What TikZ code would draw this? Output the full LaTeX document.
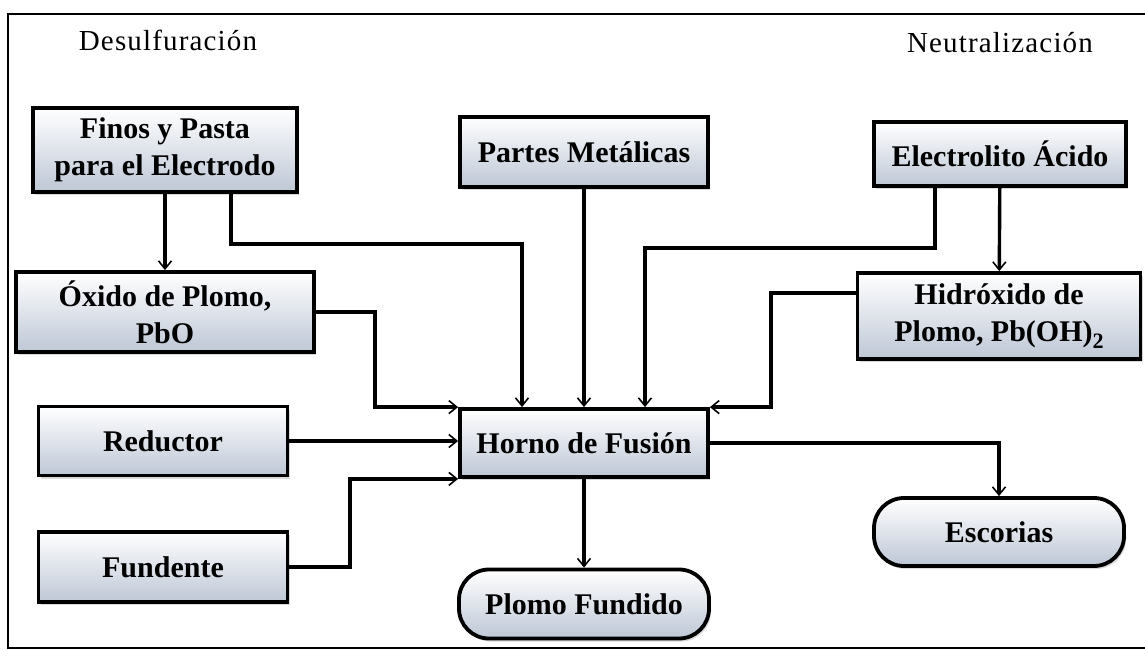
\documentclass[tikz,border=0pt]{standalone}
\usepackage{fontspec}
\setmainfont{Liberation Serif}
\usetikzlibrary{arrows.meta, shadows}
\definecolor{boxgray}{RGB}{190,199,214}

\begin{document}
\begin{tikzpicture}[x=1pt, y=-1pt,
  box/.style={draw, line width=3.8pt, align=center, inner sep=2pt,
    top color=white, middle color=white!85!boxgray, bottom color=boxgray,
    drop shadow={shadow xshift=2pt, shadow yshift=-3pt, opacity=.3},
    font=\fontsize{30}{37}\selectfont\bfseries},
  endbox/.style={box, rounded corners=30pt},
  flow/.style={line width=3.4pt, -{Straight Barb[length=8pt, width=13pt, line width=1.6pt]}},
  title/.style={font=\fontsize{29}{32}\selectfont\addfontfeature{LetterSpace=4}}]
\useasboundingbox (0,0) rectangle (1145,650);
% Outer frame, its right side is cut off
\draw [line width=2.4pt] (1145,14) -- (8,14) -- (8,648) -- (1145,648);
% Titles of the two side processes
\node [title] (desulf) at (168,40) {Desulfuración};
\node [title] (neutral) at (1000,43) {Neutralización};
% Inputs along the top row
\node [box, minimum width=264pt, minimum height=84pt] (finos) at (165,150) {Finos y Pasta\\para el Electrodo};
\node [box, minimum width=248pt, minimum height=70pt] (partes) at (584,152) {Partes Metálicas};
\node [box, minimum width=252pt, minimum height=64pt] (electro) at (1000,154) {Electrolito Ácido};
% Intermediate products
\node [box, minimum width=298pt, minimum height=80pt] (oxido) at (165,312) {Óxido de Plomo,\\PbO};
\node [box, minimum width=283pt, minimum height=86pt] (hidro) at (999,316) {Hidróxido de\\Plomo, Pb(OH)\raisebox{-7pt}{\fontsize{22}{22}\selectfont 2}};
% Additives
\node [box, minimum width=249pt, minimum height=69pt] (reductor) at (163,441) {Reductor};
\node [box, minimum width=249pt, minimum height=70pt] (fundente) at (163,567) {Fundente};
% Furnace and its outputs
\node [box, minimum width=248pt, minimum height=68pt] (horno) at (584,443) {Horno de Fusión};
\node [endbox, minimum width=250pt, minimum height=69pt] (plomo) at (584,604) {Plomo Fundido};
\node [endbox, minimum width=250pt, minimum height=68pt] (escorias) at (999,532) {Escorias};
% Flows into the furnace from above
\draw [flow] (finos) -- (oxido);
\draw [flow] ([xshift=66pt]finos.south) -- ++(0,50) -| ([xshift=-62pt]horno.north);
\draw [flow] (partes) -- (horno);
\draw [flow] ([xshift=-65pt]electro.south) -- ++(0,60) -| ([xshift=61pt]horno.north);
\draw [flow] (electro) -- (hidro);
\draw [flow] ([yshift=23pt]hidro.west) -| ([xshift=61pt]horno.north east) -- (horno.north east);
\draw [flow] (oxido.east) -| ([xshift=-83pt]horno.north west) -- (horno.north west);
% Flows into the furnace from the left
\draw [flow] (reductor.east) -- (reductor.east -| horno.west);
\draw [flow] (fundente.east) -| ([xshift=-108pt]horno.south west) -- (horno.south west);
% Products of the furnace
\draw [flow] (horno) -- (plomo);
\draw [flow] (horno.east) -| (escorias.north);
\end{tikzpicture}
\end{document}
